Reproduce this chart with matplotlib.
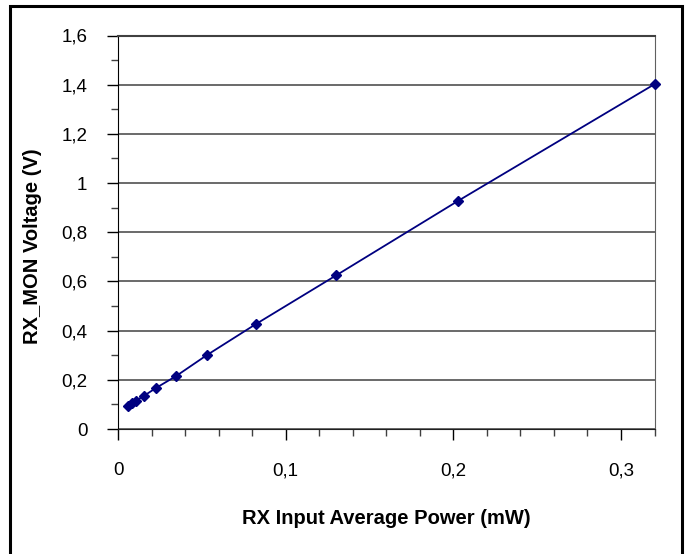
import matplotlib
matplotlib.use('Agg')
import matplotlib.pyplot as plt
from matplotlib.ticker import MultipleLocator, FuncFormatter
from matplotlib.patches import Rectangle

# RX input average power (mW) vs RX_MON voltage (V)
power_mw = [0.0061, 0.0085, 0.0107, 0.0153, 0.0227, 0.0346, 0.0529, 0.0821, 0.1302, 0.2027, 0.3200]
rx_mon_v = [0.094, 0.104, 0.115, 0.134, 0.167, 0.215, 0.300, 0.426, 0.625, 0.927, 1.402]

x_major = [0, 0.1, 0.2, 0.3]
y_major = [0, 0.2, 0.4, 0.6, 0.8, 1.0, 1.2, 1.4, 1.6]

plt.rcParams['font.family'] = ['Liberation Sans', 'DejaVu Sans']

fig = plt.figure(figsize=(6.85, 5.54), dpi=100)
# outer frame of the chart object
fig.patches.append(Rectangle((10 / 685, -0.05), 672 / 685, 1.05 - 6 / 554, transform=fig.transFigure,
                             fill=False, edgecolor='black', linewidth=2.2))

ax = fig.add_axes([118 / 685, 125 / 554, 536.5 / 685, 393.5 / 554])

ax.plot(power_mw, rx_mon_v, color='#000080', linewidth=1.3, marker='D', markersize=5.5,
        markerfacecolor='#000080', markeredgecolor='#000080', clip_on=False, zorder=3)

ax.set_xlim(0, 0.32)
ax.set_ylim(0, 1.6)

def comma(v, pos):
    s = ('%.1f' % v).replace('.', ',')
    if s.endswith(',0'):
        s = s[:-2]
    return s

ax.set_xticks(x_major)
ax.set_yticks(y_major)
ax.xaxis.set_minor_locator(MultipleLocator(0.02))
ax.yaxis.set_minor_locator(MultipleLocator(0.1))
ax.xaxis.set_major_formatter(FuncFormatter(comma))
ax.yaxis.set_major_formatter(FuncFormatter(comma))

ax.tick_params(axis='both', which='major', direction='out', length=8, width=1, labelsize=13.5,
               color='black')
ax.tick_params(axis='both', which='minor', direction='out', length=5, width=1, color='#404040')
ax.tick_params(axis='x', which='major', pad=16)
ax.tick_params(axis='y', which='major', pad=14)

ax.yaxis.grid(True, which='major', color='#505050', linewidth=1.2)
ax.set_axisbelow(True)

ax.spines['left'].set_color('black')
ax.spines['bottom'].set_color('#202020')
ax.spines['top'].set_color('#404040')
ax.spines['top'].set_linewidth(1.5)
ax.spines['right'].set_color('#606060')

ax.set_xlabel('RX Input Average Power (mW)', fontsize=14.5, fontweight='bold', labelpad=21)
ax.set_ylabel('RX_MON Voltage (V)', fontsize=14.5, fontweight='bold')
ax.yaxis.set_label_coords(-0.142, 0.465)

fig.savefig('out.png', dpi=100)
